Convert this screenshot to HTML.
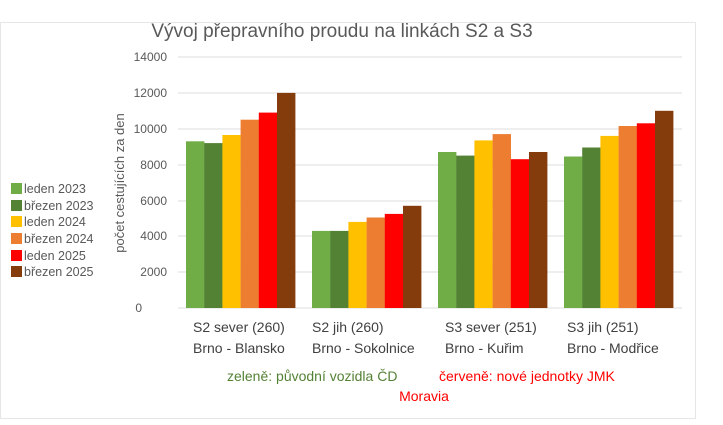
<!DOCTYPE html>
<html><head><meta charset="utf-8"><style>
body{margin:0;background:#fff;}
svg text{font-family:"Liberation Sans",sans-serif;}
</style></head><body>
<svg width="723" height="420" xmlns="http://www.w3.org/2000/svg">
<rect x="0.5" y="22.5" width="695" height="396" fill="#fff" stroke="#e6e6e6"/>
<text x="342" y="37" font-size="19" fill="#595959" text-anchor="middle">Vývoj přepravního proudu na linkách S2 a S3</text>
<g stroke="#e3e3e3" stroke-width="1.2">
<line x1="178" x2="682" y1="57" y2="57"/><line x1="178" x2="682" y1="93" y2="93"/>
<line x1="178" x2="682" y1="129" y2="129"/><line x1="178" x2="682" y1="165" y2="165"/>
<line x1="178" x2="682" y1="201" y2="201"/><line x1="178" x2="682" y1="236" y2="236"/>
<line x1="178" x2="682" y1="272" y2="272"/><line x1="178" x2="682" y1="308" y2="308"/>
</g>
<g font-size="12" fill="#595959" text-anchor="end">
<text x="167" y="61">14000</text><text x="167" y="97">12000</text><text x="167" y="133">10000</text>
<text x="167" y="169">8000</text><text x="167" y="205">6000</text><text x="167" y="240">4000</text>
<text x="167" y="276">2000</text><text x="142" y="312">0</text>
</g>
<text transform="translate(124,183) rotate(-90)" font-size="13" fill="#595959" text-anchor="middle">počet cestujících za den</text>
<g>
<rect x="186" y="141.3" width="18.4" height="166.7" fill="#70ad47"/>
<rect x="204.2" y="143.1" width="18.4" height="164.9" fill="#548235"/>
<rect x="222.4" y="135" width="18.4" height="173" fill="#ffc000"/>
<rect x="240.6" y="119.7" width="18.4" height="188.3" fill="#ed7d31"/>
<rect x="258.8" y="112.6" width="18.4" height="195.4" fill="#ff0000"/>
<rect x="277" y="92.9" width="18.4" height="215.1" fill="#843c0c"/>

<rect x="312" y="230.9" width="18.4" height="77.1" fill="#70ad47"/>
<rect x="330.2" y="230.9" width="18.4" height="77.1" fill="#548235"/>
<rect x="348.4" y="221.9" width="18.4" height="86.1" fill="#ffc000"/>
<rect x="366.6" y="217.5" width="18.4" height="90.5" fill="#ed7d31"/>
<rect x="384.8" y="213.9" width="18.4" height="94.1" fill="#ff0000"/>
<rect x="403" y="205.8" width="18.4" height="102.2" fill="#843c0c"/>

<rect x="438" y="152" width="18.4" height="156" fill="#70ad47"/>
<rect x="456.2" y="155.6" width="18.4" height="152.4" fill="#548235"/>
<rect x="474.4" y="140.4" width="18.4" height="167.6" fill="#ffc000"/>
<rect x="492.6" y="134.1" width="18.4" height="173.9" fill="#ed7d31"/>
<rect x="510.8" y="159.2" width="18.4" height="148.8" fill="#ff0000"/>
<rect x="529" y="152" width="18.4" height="156" fill="#843c0c"/>

<rect x="564" y="156.5" width="18.4" height="151.5" fill="#70ad47"/>
<rect x="582.2" y="147.5" width="18.4" height="160.5" fill="#548235"/>
<rect x="600.4" y="135.9" width="18.4" height="172.1" fill="#ffc000"/>
<rect x="618.6" y="126" width="18.4" height="182" fill="#ed7d31"/>
<rect x="636.8" y="123.3" width="18.4" height="184.7" fill="#ff0000"/>
<rect x="655" y="110.8" width="18.4" height="197.2" fill="#843c0c"/>
</g>
<g font-size="14" fill="#404040">
<text x="193" y="332">S2 sever (260)</text><text x="193" y="353">Brno - Blansko</text>
<text x="312" y="332">S2 jih (260)</text><text x="312" y="353">Brno - Sokolnice</text>
<text x="445" y="332">S3 sever (251)</text><text x="445" y="353">Brno - Kuřim</text>
<text x="567" y="332">S3 jih (251)</text><text x="567" y="353">Brno - Modřice</text>
</g>
<text x="227" y="381" font-size="14" fill="#548235">zeleně: původní vozidla ČD</text>
<text x="439" y="381" font-size="14" fill="#ff0000">červeně: nové jednotky JMK</text>
<text x="424" y="401" font-size="14" fill="#ff0000" text-anchor="middle">Moravia</text>
<g font-size="12.5" fill="#595959">
<rect x="11" y="183" width="11" height="11" fill="#70ad47"/><text x="24" y="193">leden 2023</text>
<rect x="11" y="200" width="11" height="11" fill="#548235"/><text x="24" y="210">březen 2023</text>
<rect x="11" y="216" width="11" height="11" fill="#ffc000"/><text x="24" y="226">leden 2024</text>
<rect x="11" y="233" width="11" height="11" fill="#ed7d31"/><text x="24" y="243">březen 2024</text>
<rect x="11" y="250" width="11" height="11" fill="#ff0000"/><text x="24" y="260">leden 2025</text>
<rect x="11" y="266" width="11" height="11" fill="#843c0c"/><text x="24" y="276">březen 2025</text>
</g>
</svg>
</body></html>
